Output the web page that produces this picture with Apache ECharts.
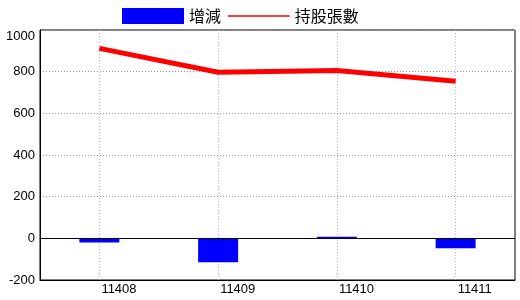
<!DOCTYPE html>
<html><head><meta charset="utf-8">
<script src="https://cdn.jsdelivr.net/npm/echarts@6/dist/echarts.min.js"></script>
<style>html,body{margin:0;padding:0;background:#fff}#c{width:520px;height:300px}</style>
</head><body><div id="c"></div>
<script>
const categories = ['11408', '11409', '11410', '11411'];
const changeValues = [-20, -115, 8, -47];
const holdingValues = [912, 797, 806, 754];
const yTicks = { min: -200, max: 1000, interval: 200 };

const chart = echarts.init(document.getElementById('c'));
const numFont = '"Liberation Sans Narrow", "Liberation Sans", sans-serif';
chart.setOption({
  animation: false,
  backgroundColor: '#fff',
  legend: {
    left: 117, top: 3, itemGap: 6, itemWidth: 62, itemHeight: 16,
    textStyle: { fontSize: 16, color: '#000', fontFamily: '"Noto Sans CJK TC", sans-serif' },
    data: [
      { name: '增減', icon: 'rect' },
      { name: '持股張數', lineStyle: { width: 1.5, color: '#ff0000', opacity: 1 }, itemStyle: { color: 'rgba(0,0,0,0)', borderWidth: 0 } }
    ]
  },
  grid: { left: 40, right: 5, top: 30, bottom: 20, show: true, borderColor: '#000', borderWidth: 1, backgroundColor: 'transparent' },
  xAxis: {
    type: 'category', data: categories, boundaryGap: true,
    axisLine: { onZero: false, lineStyle: { color: '#000' } },
    axisTick: { show: false },
    axisLabel: { color: '#000', fontSize: 13, fontFamily: numFont, align: 'left', margin: 3, padding: [0, 0, 0, 2] },
    splitLine: { show: true, alignWithLabel: true, lineStyle: { color: '#a8bccc', type: [1, 2] } }
  },
  yAxis: {
    type: 'value', min: yTicks.min, max: yTicks.max, interval: yTicks.interval,
    axisLine: { show: true, lineStyle: { color: '#000' } },
    axisTick: { show: false },
    axisLabel: { color: '#000', fontSize: 13, fontFamily: numFont, margin: 5, verticalAlignMaxLabel: 'top',
      formatter: v => String(v) },
    splitLine: { show: true, lineStyle: { color: '#999', type: [1, 2] } }
  },
  series: [
    {
      name: '增減', type: 'bar', data: changeValues, barWidth: 40,
      itemStyle: { color: '#0000ff' },
      markLine: { silent: true, symbol: 'none', label: { show: false },
        lineStyle: { color: '#000', type: 'solid', width: 1 }, data: [{ yAxis: 0 }] }
    },
    {
      name: '持股張數', type: 'line', data: holdingValues, symbol: 'none',
      lineStyle: { color: '#ff0000', width: 5 }, itemStyle: { color: '#ff0000' }
    }
  ]
});
</script></body></html>
